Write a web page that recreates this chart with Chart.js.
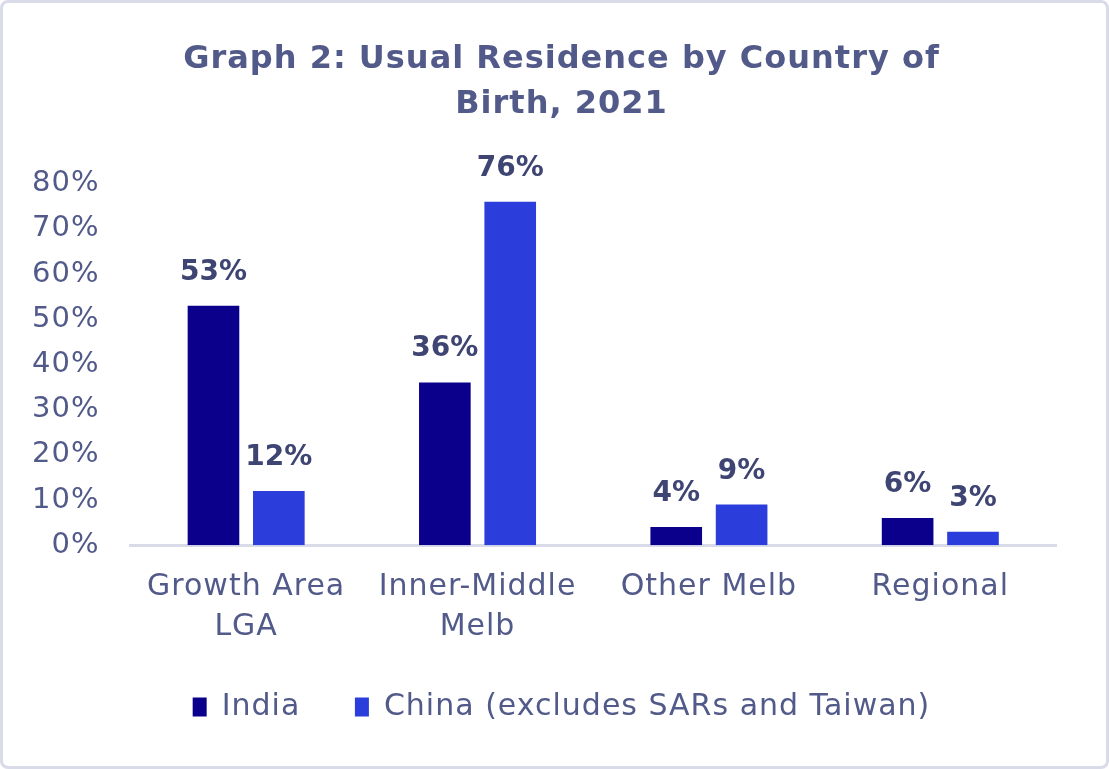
<!DOCTYPE html>
<html>
<head>
<meta charset="utf-8">
<script src="https://cdn.jsdelivr.net/npm/chart.js@4"></script>
<style>
  html, body { margin: 0; padding: 0; background: #fff; }
  #wrap {
    position: absolute; left: 0; top: 0;
    width: 1103px; height: 763px;
    border: 3px solid #d9dbe9; border-radius: 8px;
    background: #fff;
  }
  canvas { display: block; }
</style>
</head>
<body>
<div id="wrap"><canvas id="canvas" width="1103" height="763"></canvas></div>
<script>
var categories = [['Growth Area', 'LGA'], ['Inner-Middle', 'Melb'], 'Other Melb', 'Regional'];
var india = [53, 36, 4, 6];
var china = [12, 76, 9, 3];
var yTicks = [0, 10, 20, 30, 40, 50, 60, 70, 80];

var textColor = '#525a8a';
var fontName = "'DejaVu Sans', sans-serif";

// the original font is wider, so spread letters a little
var spacing = {
    id: 'spacing',
    beforeLayout: function(chart) { chart.ctx.letterSpacing = '1px'; },
    beforeDraw: function(chart) { chart.ctx.letterSpacing = '1px'; }
};

// draws the value above each bar
var barLabels = {
    id: 'barLabels',
    afterDatasetsDraw: function(chart) {
        var ctx = chart.ctx;
        ctx.save();
        ctx.letterSpacing = '0px';
        ctx.font = 'bold 28px ' + fontName;
        ctx.fillStyle = '#3e4572';
        ctx.textAlign = 'center';
        ctx.textBaseline = 'alphabetic';
        chart.data.datasets.forEach(function(ds, i) {
            chart.getDatasetMeta(i).data.forEach(function(bar, j) {
                ctx.fillText(ds.data[j] + '%', bar.x, bar.y - 26);
            });
        });
        ctx.restore();
    }
};

const ctx = document.getElementById('canvas').getContext('2d');
const myChart = new Chart(ctx, {
    type: 'bar',
    data: {
        labels: categories,
        datasets: [{
            label: 'India',
            data: india,
            backgroundColor: '#0b008c'
        }, {
            label: 'China (excludes SARs and Taiwan)',
            data: china,
            backgroundColor: '#2b3edb'
        }]
    },
    plugins: [spacing, barLabels],
    options: {
        responsive: false,
        animation: false,
        categoryPercentage: 0.565,
        barPercentage: 0.79,
        layout: { padding: { left: 14, right: 0, top: 8, bottom: 34 } },
        plugins: {
            title: {
                display: true,
                text: ['Graph 2: Usual Residence by Country of', 'Birth, 2021'],
                color: textColor,
                font: { family: fontName, size: 32, weight: 'bold', lineHeight: 1.4 },
                padding: { top: 26, bottom: 57 }
            },
            legend: {
                position: 'bottom',
                labels: {
                    color: textColor,
                    font: { family: fontName, size: 30 },
                    boxWidth: 14,
                    boxHeight: 19,
                    padding: 23,
                    generateLabels: function(chart) {
                        var items = Chart.defaults.plugins.legend.labels.generateLabels(chart);
                        items[0].text += '   ';
                        return items;
                    }
                }
            },
            tooltip: { enabled: false }
        },
        scales: {
            x: {
                grid: { display: false, drawTicks: false },
                border: { color: '#d9dbe9', width: 3 },
                ticks: {
                    color: textColor,
                    font: { family: fontName, size: 30, lineHeight: 1.33 },
                    padding: 22
                }
            },
            y: {
                min: 0,
                max: 80,
                afterBuildTicks: function(axis) {
                    axis.ticks = yTicks.map(function(v) { return { value: v }; });
                },
                afterFit: function(axis) { axis.width -= 16; },
                grid: { display: false, drawTicks: false },
                border: { display: false },
                ticks: {
                    color: textColor,
                    font: { family: fontName, size: 29 },
                    padding: 31,
                    callback: function(v) { return v + '%'; }
                }
            },
            // empty right margin so the plot ends where the original does
            yRight: {
                position: 'right',
                grid: { display: false },
                border: { display: false },
                ticks: { display: false },
                afterFit: function(axis) { axis.width = 50; }
            }
        }
    }
});
</script>
</body>
</html>
